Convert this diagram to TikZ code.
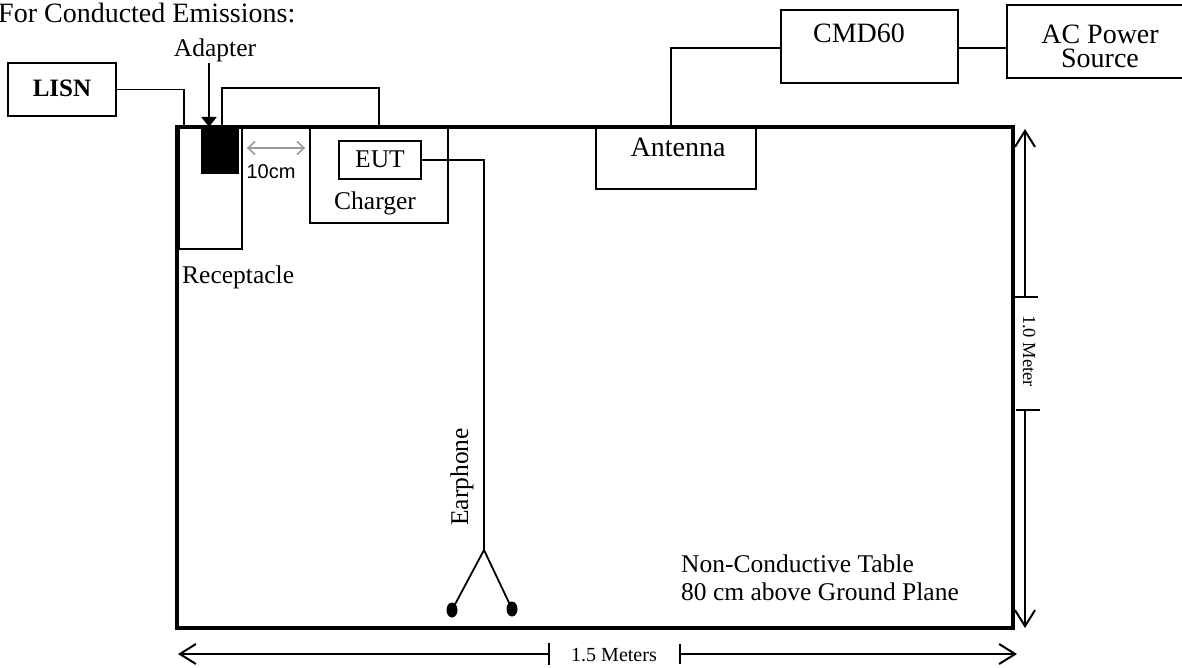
\documentclass[tikz,border=0pt]{standalone}
\usepackage{fontspec}
\setmainfont{Liberation Serif}
\newfontfamily\arialfont{Liberation Sans}
\usetikzlibrary{arrows.meta,shapes.geometric,calc}
\begin{document}
\begin{tikzpicture}[x=1pt,y=-1pt,
  box/.style={draw, line width=1.8pt, inner sep=0pt},
  lbl/.style={inner sep=0pt, anchor=base, font=\fontsize{25.5}{28}\selectfont},
  biglbl/.style={inner sep=0pt, anchor=base, font=\fontsize{28}{30}\selectfont},
  wire/.style={line width=1.8pt},
  dimline/.style={line width=2pt, -{Straight Barb[length=16pt,width=20pt]}},
  grayarrow/.style={line width=1.5pt, draw=black!40, {Straight Barb[length=7pt,width=13pt]}-{Straight Barb[length=7pt,width=13pt]}, shorten <=4pt, shorten >=4pt},
  bud/.style={ellipse, fill=black, inner sep=0pt, minimum width=11pt, minimum height=15pt}
]
\useasboundingbox (0,0) rectangle (1182,668);

% table
\node[draw, line width=3.5pt, inner sep=0pt, minimum width=836pt, minimum height=501pt] (table) at (595,377.5) {};

% boxes
\node[box, minimum width=108pt, minimum height=53pt] (lisn) at (62,89.5) {};
\node[box, minimum width=63pt, minimum height=122pt] (rec) at (210.5,188) {};
\node[draw, fill=black, line width=1pt, inner sep=0pt, minimum width=37pt, minimum height=46pt] (adapter) at (220,150.5) {};
\node[box, minimum width=138pt, minimum height=96pt] (charger) at (379,175) {};
\node[box, minimum width=82pt, minimum height=38pt] (eut) at (380,160) {};
\node[box, minimum width=160pt, minimum height=62pt] (ant) at (676,158) {};
\node[box, minimum width=177pt, minimum height=73pt] (cmd) at (869.5,46.5) {};
\node[box, minimum width=177pt, minimum height=73pt] (ac) at (1095.5,41.5) {};

% texts
\node[biglbl, anchor=base west] (title) at (-2,23) {For Conducted Emissions:};
\node[lbl] (adlbl) at (215,57) {Adapter};
\node[lbl, font=\fontsize{25}{28}\selectfont\bfseries] (lisnlbl) at (62,97) {LISN};
\node[lbl] (eutlbl) at (380,168) {EUT};
\node[lbl] (chlbl) at (375,210) {Charger};
\node[inner sep=0pt, anchor=base, font=\fontsize{20}{22}\arialfont] (tencm) at (271,179) {10cm};
\node[lbl, anchor=base west] (reclbl) at (182,283) {Receptacle};
\node[biglbl] (cmdlbl) at (859,43) {CMD60};
\node[inner sep=0pt, align=center, anchor=north, font=\fontsize{28}{24}\selectfont] (aclbl) at (1100,24.5) {AC Power\\Source};
\node[biglbl] (antlbl) at (678,157) {Antenna};
\node[lbl, rotate=90] (earlbl) at (468,477) {Earphone};
\node[lbl, anchor=base west] (tbl1) at (681,572) {Non-Conductive Table};
\node[lbl, anchor=base west] (tbl2) at (681,600) {80 cm above Ground Plane};
\node[inner sep=0pt, anchor=base, font=\fontsize{20}{22}\selectfont] (m15) at (614,661) {1.5 Meters};
\node[inner sep=0pt, anchor=base, rotate=-90, font=\fontsize{18.5}{20}\selectfont] (m10) at (1023,351) {1.0 Meter};

% wires
\draw[wire] (lisn.east) -| ($(rec.north west)+(6,0)$);
\draw[wire] ($(adapter.north)+(2,0)$) -- ++(0,-39) -| (charger.north);
\draw[wire] ($(ant.north)+(-5,0)$) |- ($(cmd.west)+(0,1.5)$);
\coordinate (w) at ($(cmd.east)+(0,1.5)$);
\draw[wire] (w) -- (w -| ac.west);

% adapter arrow
\draw[wire, -{Triangle[length=10pt,width=15pt]}] ($(adlbl.south)+(-6,0)$) -- ($(adapter.north)+(-11,0)$);

% 10cm arrow
\coordinate (g) at (0,148);
\draw[grayarrow] (rec.east |- g) -- (charger.west |- g);

% earphone
\coordinate (fork) at (484,550);
\node[bud] (bl) at (452,610) {};
\node[bud] (br) at (512,609) {};
\draw[wire] (eut.east) -| (fork);
\draw[wire] (fork) -- (bl.center);
\draw[wire] (fork) -- (br.center);

% vertical dimension
\coordinate (vt1) at (1025,297);
\coordinate (vt2) at (1025,129);
\coordinate (vb1) at (1025,410);
\coordinate (vb2) at (1025,628);
\draw[dimline] (vt1) -- (vt2);
\draw[dimline] (vb1) -- (vb2);
\draw[wire] ($(vt1)+(-11,0)$) -- ($(vt1)+(13,0)$);
\draw[wire] ($(vb1)+(-9,0)$) -- ($(vb1)+(15,0)$);

% horizontal dimension
\coordinate (hl1) at (549,654);
\coordinate (hl2) at (178,654);
\coordinate (hr1) at (680,654);
\coordinate (hr2) at (1017,654);
\draw[dimline] (hl1) -- (hl2);
\draw[dimline] (hr1) -- (hr2);
\draw[wire] ($(hl1)+(0,-11)$) -- ($(hl1)+(0,11)$);
\draw[wire] ($(hr1)+(0,-10)$) -- ($(hr1)+(0,10)$);
\end{tikzpicture}
\end{document}
